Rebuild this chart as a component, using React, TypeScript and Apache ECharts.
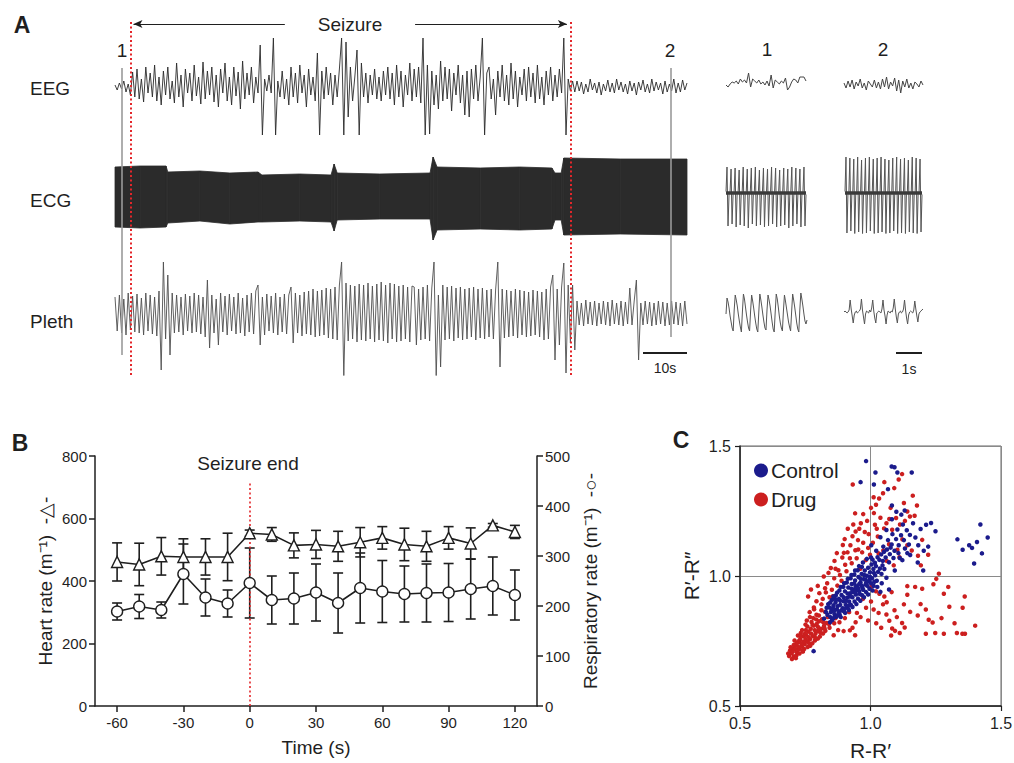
import React, { useEffect, useRef } from 'react';
import * as echarts from 'echarts';

const FONT = 'Arial, "Liberation Sans", Helvetica, sans-serif';
const INK = '#1f1f1f';
const RED_LINE = '#e3262a';

// ---- Panel A: raw traces (offset from baseline, + is up) ----
const eegTrace = [
  2, -3, 4, -2, 6, -5, 3, -8, 15, -10,
  18, -12, 8, -15, 20, -6, 14, -10, 22, -14,
  10, -18, 16, -8, 20, -12, 6, -16, 24, -10,
  12, -20, 18, -6, 14, -14, 22, -9, 10, -17,
  25, -12, 16, -8, 20, -15, 12, -20, 18, -6,
  24, -14, 10, -18, 20, -9, 15, -22, 26, -12,
  14, -8, 20, -16, 10, -6, 42, -48, 8, -4,
  12, -6, 49, -48, 6, -10, 16, -12, 8, -18,
  20, -10, 14, -16, 22, -6, 12, -20, 18, -8,
  10, -14, 34, -48, 16, -12, 20, -8, 14, -18,
  12, -10, 18, 49, -48, 45, -30, 20, -14, 10,
  37, -48, 24, -10, 14, -16, 12, -8, 18, -12,
  10, -14, 16, -8, 20, -12, 14, -18, 22, -10,
  16, -20, 12, -8, 24, -14, 18, -10, 20, -16,
  49, -48, 22, -47, 16, -18, 12, -22, 26, -14,
  20, -12, 18, -24, 14, -8, 22, -16, 12, -28,
  16, -30, 18, -12, 22, -14, 10, 49, -48, 14,
  20, -12, 8, -28, 16, -10, 22, -14, 12, -18,
  24, -12, 16, -20, 10, -8, 18, -14, 20, -10,
  14, -16, 22, -12, 10, -18, 16, -8, 20, -14,
  12, -10, 18, -6, 49, -48, 8, -4, 6, -5,
  6, -4, 5, -7, 3, -5, 8, -3, 4, -6,
  5, -8, 3, -4, 7, -5, 4, -6, 8, -3,
  5, -5, 3, -7, 6, -4, 4, -8, 5, -3,
  7, -5, 3, -6, 8, -4, 5, -3, 4, -7,
  6, -5, 3, -4, 8, -6, 4, -5, 7, -3,
  4,
];

const plethTrace = [
  18, -16, 20, -18, 16, -20, 22, -15, 19, -17,
  21, -18, 17, -20, 22, -16, 20, -19, 18, -21,
  24, -55, 53, -24, 40, -40, 22, -18, 20, -17,
  18, -20, 21, -16, 19, -18, 22, -17, 20, -19,
  18, -22, 35, -33, 20, -18, 16, -30, 22, -17,
  19, -20, 21, -16, 18, -19, 22, -18, 17, -21,
  20, -17, 22, -19, 24, 30, -30, 18, -20, 21,
  -16, 19, -18, 22, -20, 18, -17, 21, -19, 20,
  28, -28, 22, -18, 20, -21, 23, -19, 24, -20,
  26, -22, 24, -21, 25, -20, 27, -23, 26, -24,
  28, -25, 30, 53, -62, 32, -26, 30, -24, 29,
  -27, 31, -25, 30, -26, 32, -24, 29, -27, 31,
  -25, 33, -26, 30, -28, 32, -24, 31, -27, 29,
  -26, 30, -24, 28, -27, 29, 28, -30, 26, -25,
  28, -24, 30, -26, 27, 53, -62, 20, -52, 30,
  -25, 28, -24, 29, -26, 27, -23, 28, -25, 26,
  -24, 27, -22, 28, -25, 26, -23, 27, -24, 25,
  -22, 26, -24, 25, 53, -52, 26, -23, 25, -22,
  24, -21, 26, -23, 25, -20, 24, -22, 23, -21,
  25, -20, 24, -22, 23, -25, 26, -24, 28, 40,
  -45, 26, -30, 28, 52, -58, 30, -28, 30, -35,
  14, -10, 12, -11, 15, -9, 13, -10, 14, -11,
  12, -9, 14, -10, 13, -11, 15, -9, 12, -10,
  14, -11, 13, -9, 27, -10, 14, 35, -45, 12,
  -10, 14, -9, 13, -11, 12, -10, 14, -9, 13,
  -11, 12, -10, 14, -9, 13, -10, 12, -11, 14, -9,
];

// ECG drawn as its envelope (time in s, top / bottom excursion)
const ecgTime = [0, 5.7, 11.6, 12.0, 19.3, 26.1, 32.5, 33.4, 42.0, 49.1, 49.8, 50.5, 60.2, 71.6, 72.3, 73.2, 83.0, 92.0, 99.3, 100.0, 101.4, 102.0, 114.8, 130];
const ecgTop = [30, 31, 31, 25, 26, 24, 25, 22, 23, 22, 33, 24, 23, 24, 40, 30, 29, 30, 29, 24, 24, 39, 38, 38];
const ecgBottom = [-30, -31, -30, -26, -24, -27, -25, -25, -24, -25, -34, -23, -22, -22, -43, -33, -32, -33, -32, -23, -23, -38, -37, -38];

// expanded windows 1 and 2
const eegInset1 = [0, -2, 1, 3, 2, 4, 1, 6, 3, 5, 2, 12, -2, 6, 4, 2, 5, 1, 3, 0, 4, -1, 10, -3, 5, 3, 1, 4, 2, 7, -5, -2, 3, 6, 5, 2, 8, 8, 8, 4];
const eegInset2 = [2, -3, 4, -2, 5, -4, 3, -1, 6, -3, 2, -5, 4, 1, -2, 5, -3, 3, -4, 6, -2, 8, -4, 3, -1, 7, -6, 5, -8, 4, -2, 6, -3, 2, -4, 3, 1, -2, 4, 0];
const ecgInset1Top = [26, 24, 25, 23, 26, 24, 25, 26, 23, 25, 24, 26, 25, 23, 25, 24, 26, 25, 24, 26];
const ecgInset1Bottom = [-33, -31, -34, -32, -33, -35, -31, -33, -32, -34, -33, -31, -34, -33, -32, -35, -33, -31, -34, -33];
const ecgInset2Top = [36, 35, 34, 36, 33, 35, 36, 34, 35, 36, 34, 33, 35, 36, 34, 35, 33, 36, 35, 34];
const ecgInset2Bottom = [-40, -38, -42, -39, -41, -40, -38, -42, -40, -39, -41, -40, -38, -41, -40, -42, -39, -40, -41, -39];
const plethInset1 = [
  -2, 14, 10, 4, -4, -10, -16, -19,
  2, 17, 12, 6, -2, -9, -15, -20,
  0, 18, 13, 5, -3, -10, -16, -19,
  1, 17, 11, 4, -4, -11, -17, -20,
  0, 18, 12, 5, -3, -10, -16, -18,
  2, 17, 12, 6, -2, -10, -17, -20,
  0, 18, 13, 5, -4, -11, -16, -19,
  1, 17, 11, 4, -3, -10, -15, -19,
  0, 18, 12, 5, -3, -11, -17, -20,
  2, 19, 13, 6, -2, -9, -12, -8,
];
const plethInset2 = [
  0, 1, 0, -1, 0, 2, 12, 3, -4, -11, -3, 0, 1,
  -1, 0, 1, 3, 13, 2, -5, -12, -2, 1, 0, -1, 2,
  0, 4, 12, 1, -6, -11, -1, 0, 1, 0, -1, 3,
  12, 2, -4, -12, -3, 1, 0, -1, 1, 0, 4, 13,
  3, -5, -11, -2, 0, 1, -1, 0, 3, 12, 2, -6,
  -12, -3, 0, 1, 0, -1, 2, 11, 3, -4, -10, -2, 0, 1, 2, 3,
];

// annotation times on the raw-trace time axis (s)
const seizureBounds = [3.6, 103.6];
const windowMarkers = [1.5, 126.3];
const windowMarkerEnds = [333, 315];
const scaleBarA = [120, 130];

// ---- Panel B ----
const timeB = [-60, -50, -40, -30, -20, -10, 0, 10, 20, 30, 40, 50, 60, 70, 80, 90, 100, 110, 120];
const heartRate = [461, 453, 479, 477, 477, 477, 553, 549, 514, 517, 511, 524, 538, 517, 511, 538, 520, 578, 557];
const heartRateSd = [61, 68, 60, 58, 58, 76, 10, 22, 40, 45, 48, 47, 36, 52, 48, 36, 50, 6, 21];
const respRate = [189, 199, 192, 264, 217, 205, 246, 212, 215, 227, 206, 236, 229, 224, 226, 227, 234, 240, 222];
const respRateSd = [17, 24, 16, 60, 37, 27, 70, 48, 51, 57, 60, 70, 62, 56, 58, 58, 60, 58, 50];
const timeTicksB = [-60, -30, 0, 30, 60, 90, 120];
const seizureEnd = 0;

// ---- Panel C: Poincaré plot (R-R', R'-R'') ----
const drugPoints = [
  [0.688, 0.692], [0.697, 0.703], [0.692, 0.714], [0.706, 0.691], [0.703, 0.721], [0.718, 0.707], [0.712, 0.733], [0.726, 0.718], [0.721, 0.744], [0.737, 0.729],
  [0.731, 0.756], [0.748, 0.738], [0.742, 0.768], [0.757, 0.749], [0.722, 0.771], [0.753, 0.774], [0.768, 0.757], [0.762, 0.786], [0.738, 0.792], [0.779, 0.768],
  [0.771, 0.797], [0.789, 0.778], [0.758, 0.806], [0.783, 0.809], [0.801, 0.788], [0.774, 0.823], [0.794, 0.816], [0.811, 0.797], [0.803, 0.826], [0.781, 0.838],
  [0.822, 0.808], [0.814, 0.834], [0.793, 0.851], [0.832, 0.819], [0.728, 0.702], [0.746, 0.719], [0.769, 0.732], [0.787, 0.752], [0.806, 0.767], [0.827, 0.789],
  [0.709, 0.752], [0.733, 0.781], [0.751, 0.813], [0.768, 0.842], [0.759, 0.727], [0.798, 0.759], [0.818, 0.779], [0.843, 0.801], [0.861, 0.818], [0.777, 0.741],
  [0.741, 0.709], [0.699, 0.681], [0.716, 0.694], [0.694, 0.726], [0.711, 0.719], [0.727, 0.752], [0.744, 0.747], [0.763, 0.765], [0.786, 0.792], [0.799, 0.804],
  [0.819, 0.822], [0.836, 0.842], [0.752, 0.792], [0.735, 0.741], [0.778, 0.812], [0.792, 0.833],
  [0.702, 0.709], [0.714, 0.684], [0.723, 0.728], [0.739, 0.715], [0.751, 0.758], [0.764, 0.742], [0.772, 0.779], [0.789, 0.762], [0.797, 0.788], [0.809, 0.781],
  [0.824, 0.798], [0.841, 0.815], [0.853, 0.829], [0.866, 0.838], [0.756, 0.829], [0.767, 0.861], [0.784, 0.872], [0.802, 0.848], [0.826, 0.862], [0.812, 0.891],
  [0.749, 0.778], [0.731, 0.769], [0.717, 0.741], [0.706, 0.735], [0.685, 0.702],
  [0.772, 0.948], [0.761, 0.921], [0.793, 0.903], [0.804, 0.934], [0.783, 0.879], [0.812, 0.868], [0.798, 0.962], [0.821, 0.998], [0.826, 0.953], [0.843, 0.918],
  [0.834, 0.972], [0.852, 0.947], [0.839, 1.012], [0.861, 0.991], [0.873, 0.963], [0.848, 1.031], [0.877, 1.022], [0.862, 1.058], [0.892, 1.071], [0.883, 1.004],
  [0.903, 1.043], [0.871, 1.088], [0.894, 1.119], [0.912, 1.091], [0.901, 1.142], [0.923, 1.118], [0.931, 1.153], [0.913, 1.182], [0.934, 1.198], [0.943, 1.171],
  [0.952, 1.138], [0.963, 1.203], [0.941, 1.241], [0.972, 1.238], [0.987, 1.212], [0.978, 1.169], [1.002, 1.262], [1.021, 1.274], [1.033, 1.298], [0.932, 1.352],
  [1.012, 1.303], [1.048, 1.318], [1.053, 1.361], [1.108, 1.371], [1.121, 1.392], [1.091, 1.338], [1.162, 1.309], [1.178, 1.271], [1.169, 1.232], [1.141, 1.248],
  [1.098, 1.223], [1.072, 1.219], [1.038, 1.224], [1.017, 1.197], [1.052, 1.183], [1.028, 1.152], [1.009, 1.128], [0.991, 1.108], [0.968, 1.091], [0.947, 1.068],
  [0.928, 1.049], [0.908, 1.018], [0.889, 0.982], [0.972, 1.128], [0.993, 1.161], [1.024, 1.182], [1.061, 1.203], [1.083, 1.178], [1.113, 1.198], [1.132, 1.212],
  [1.122, 1.141], [1.141, 1.118], [1.103, 1.101], [1.071, 1.122], [1.049, 1.098], [1.031, 1.087], [1.062, 1.058], [1.089, 1.041], [1.111, 1.072], [1.158, 1.098],
  [1.182, 1.078], [1.198, 1.139], [1.221, 1.082], [1.193, 1.041], [0.953, 1.102], [0.961, 1.028], [0.982, 1.061], [0.998, 1.082], [0.921, 1.068], [0.942, 1.099],
  [0.817, 0.912], [0.829, 0.937], [0.856, 0.922], [0.866, 1.028], [0.898, 1.089], [0.957, 1.182], [1.013, 1.242], [1.077, 1.262], [1.128, 1.281], [1.151, 1.229],
  [0.881, 0.822], [0.902, 0.838], [0.918, 0.861], [0.931, 0.801], [0.876, 0.792], [0.897, 0.788], [0.859, 0.772], [0.948, 0.858], [0.962, 0.842], [0.983, 0.878],
  [1.002, 0.902], [0.991, 0.829], [1.012, 0.871], [1.031, 0.858], [1.022, 0.818], [1.048, 0.891], [1.061, 0.852], [1.072, 0.828], [1.092, 0.868], [1.083, 0.798],
  [1.101, 0.842], [1.094, 0.789], [1.121, 0.819], [1.112, 0.781], [1.053, 0.921], [1.034, 0.932], [1.081, 0.938], [1.128, 0.891], [1.152, 0.862], [1.141, 0.928],
  [1.171, 0.958], [1.198, 0.951], [1.192, 0.892], [1.212, 0.871], [1.181, 0.848], [1.223, 0.832], [1.212, 0.778], [1.248, 0.781], [1.238, 0.821], [1.272, 0.838],
  [1.281, 0.778], [1.322, 0.818], [1.331, 0.781], [1.352, 0.778], [1.362, 0.778], [1.401, 0.809], [1.353, 0.878], [1.361, 0.921], [1.302, 0.882], [1.281, 0.932],
  [1.252, 0.989], [1.262, 1.009], [1.241, 0.968], [1.298, 0.958], [0.921, 0.791], [0.941, 0.772], [1.079, 0.771], [1.131, 0.802], [1.003, 0.958], [1.021, 0.941],
  [0.971, 0.912], [1.141, 0.961], [1.062, 0.899], [0.943, 0.822], [1.041, 0.801],
];

const controlPoints = [
  [0.822, 0.836], [0.835, 0.851], [0.829, 0.862], [0.846, 0.842], [0.851, 0.868], [0.843, 0.879], [0.862, 0.853], [0.858, 0.887], [0.871, 0.872], [0.866, 0.898],
  [0.878, 0.861], [0.884, 0.889], [0.879, 0.912], [0.893, 0.876], [0.897, 0.903], [0.889, 0.927], [0.905, 0.889], [0.911, 0.917], [0.902, 0.941], [0.918, 0.902],
  [0.923, 0.934], [0.915, 0.956], [0.931, 0.918], [0.936, 0.947], [0.928, 0.969], [0.944, 0.929], [0.949, 0.961], [0.941, 0.983], [0.957, 0.942], [0.962, 0.975],
  [0.954, 0.996], [0.969, 0.955], [0.974, 0.988], [0.966, 1.008], [0.981, 0.967], [0.986, 1.001], [0.978, 1.021], [0.993, 0.979], [0.998, 1.014], [1.006, 0.991],
  [1.011, 1.027], [1.018, 1.003], [1.024, 0.982], [1.029, 1.016], [0.853, 0.831], [0.869, 0.843], [0.882, 0.851], [0.898, 0.864], [0.912, 0.878], [0.925, 0.889],
  [0.939, 0.902], [0.952, 0.913], [0.968, 0.926], [0.983, 0.938], [0.996, 0.951], [1.012, 0.962], [0.838, 0.892], [0.852, 0.908], [0.867, 0.925], [0.881, 0.944],
  [0.896, 0.958], [0.909, 0.975], [0.924, 0.991], [0.938, 1.006], [0.951, 1.022], [0.967, 1.035], [0.906, 0.905], [0.921, 0.921], [0.946, 0.944], [0.959, 0.931],
  [0.874, 0.884], [0.887, 0.867], [0.933, 0.938], [0.972, 0.947], [0.988, 0.962], [1.002, 0.972], [0.918, 0.887], [0.901, 0.874], [0.861, 0.866], [0.848, 0.861],
  [0.976, 1.004], [0.991, 1.032], [1.004, 1.044], [1.017, 1.051], [0.862, 0.914], [0.943, 0.958], [0.957, 0.969], [0.981, 0.986], [0.999, 0.996], [1.021, 1.038],
  [0.845, 0.822], [0.858, 0.838], [0.873, 0.848], [0.886, 0.842], [0.903, 0.858], [0.917, 0.869], [0.931, 0.881], [0.946, 0.892], [0.961, 0.905], [0.975, 0.918],
  [0.991, 0.929], [1.008, 0.944], [1.026, 0.958], [0.832, 0.878], [0.846, 0.898], [0.858, 0.921], [0.872, 0.936], [0.886, 0.958], [0.899, 0.972], [0.913, 0.989],
  [0.927, 1.004], [0.941, 1.021], [0.956, 1.038], [0.971, 1.052], [0.986, 1.066], [1.002, 1.071], [0.912, 0.933], [0.927, 0.951], [0.941, 0.937], [0.953, 0.952],
  [0.967, 0.962], [0.983, 0.973], [0.997, 0.987], [1.013, 1.012], [0.884, 0.905], [0.897, 0.918], [0.869, 0.908], [0.856, 0.876], [0.938, 0.971], [0.962, 0.989],
  [1.036, 1.029], [1.042, 1.008], [1.008, 1.063], [1.047, 1.058], [1.015, 0.978],
  [1.034, 1.062], [1.046, 1.041], [1.041, 1.083], [1.058, 1.071], [1.063, 1.102], [1.049, 1.113], [1.074, 1.084], [1.081, 1.121], [1.067, 1.138], [1.092, 1.097],
  [1.098, 1.142], [1.084, 1.161], [1.108, 1.118], [1.117, 1.157], [1.103, 1.179], [1.128, 1.138], [1.139, 1.176], [1.124, 1.198], [1.151, 1.158], [1.163, 1.203],
  [1.053, 1.027], [1.071, 1.053], [1.088, 1.069], [1.107, 1.088], [1.132, 1.106], [1.147, 1.121], [1.172, 1.148], [1.022, 1.097], [1.003, 1.118], [1.038, 1.149],
  [1.061, 1.177], [1.082, 1.218], [1.099, 1.247], [1.118, 1.236], [1.093, 1.021], [1.122, 1.061], [1.061, 0.993], [1.043, 0.972], [1.183, 1.118], [1.204, 1.097],
  [1.221, 1.113], [1.192, 1.181], [1.213, 1.197], [1.232, 1.204], [1.249, 1.172], [1.027, 1.072], [1.052, 1.093], [1.077, 1.109], [1.112, 1.069], [1.141, 1.088],
  [0.983, 1.442], [0.962, 1.361], [1.081, 1.421], [1.092, 1.418], [1.103, 1.398], [1.158, 1.398], [1.019, 1.398], [1.013, 1.352], [1.067, 1.334], [1.082, 1.271],
  [1.131, 1.252], [1.421, 1.198], [1.449, 1.148], [1.333, 1.141], [1.408, 1.131], [1.353, 1.101], [1.378, 1.118], [1.427, 1.087], [1.397, 1.048], [1.389, 1.108],
  [1.071, 0.948], [1.038, 0.939], [0.782, 0.711], [1.181, 1.052], [1.152, 1.081], [1.202, 1.021],
];

const indexAxis = (n: number) => Array.from({ length: n }, (_, i) => i);

const ecgBeats = (tops: number[], bottoms: number[]) =>
  tops.flatMap((t, i) => [1.5, t, bottoms[i], -1.5]);

const label = (text: string, x: number, y: number, size: number, opts: { bold?: boolean; align?: string } = {}) => ({
  type: 'text',
  x,
  y,
  silent: true,
  z: 30,
  style: {
    text,
    font: `${opts.bold ? 'bold ' : ''}${size}px ${FONT}`,
    fill: INK,
    align: opts.align ?? 'center',
    verticalAlign: 'middle',
    textAlign: opts.align ?? 'center',
    textVerticalAlign: 'middle',
  },
});

const errorBars = (values: number[], sds: number[], yAxisIndex: number) => ({
  type: 'custom',
  xAxisIndex: 10,
  yAxisIndex,
  z: 3,
  silent: true,
  data: timeB.map((t, i) => [t, values[i], sds[i]]),
  renderItem: (_params: any, api: any) => {
    const x = api.value(0);
    const y = api.value(1);
    const e = api.value(2);
    const hi = api.coord([x, y + e]);
    const lo = api.coord([x, y - e]);
    const w = 5;
    const style = { stroke: INK, lineWidth: 1.6 };
    return {
      type: 'group',
      children: [
        { type: 'line', shape: { x1: hi[0], y1: hi[1], x2: lo[0], y2: lo[1] }, style },
        { type: 'line', shape: { x1: hi[0] - w, y1: hi[1], x2: hi[0] + w, y2: hi[1] }, style },
        { type: 'line', shape: { x1: lo[0] - w, y1: lo[1], x2: lo[0] + w, y2: lo[1] }, style },
      ],
    };
  },
});

const traceSeries = (k: number, data: number[], color: string, width = 0.9) => ({
  type: 'line',
  xAxisIndex: k,
  yAxisIndex: k,
  data,
  symbol: 'none',
  silent: true,
  lineStyle: { color, width },
});

const baselineMark = {
  silent: true,
  symbol: 'none',
  animation: false,
  label: { show: false },
  lineStyle: { color: '#3a3a3a', type: 'solid', width: 3.5 },
  data: [{ yAxis: 0 }],
};

const App: React.FC = () => {
  const chartRef = useRef<HTMLDivElement>(null);

  useEffect(() => {
    if (!chartRef.current) return;
    const chart = echarts.init(chartRef.current, undefined, { renderer: 'svg' });

    const hiddenGrids = [
      { left: 115, top: 37, width: 572, height: 100 },
      { left: 115, top: 147, width: 572, height: 100 },
      { left: 115, top: 255, width: 572, height: 120 },
      { left: 726, top: 65, width: 80, height: 40 },
      { left: 844, top: 65, width: 79, height: 40 },
      { left: 726, top: 153, width: 80, height: 80 },
      { left: 845, top: 153, width: 77, height: 80 },
      { left: 726, top: 282, width: 81, height: 60 },
      { left: 844, top: 282, width: 79, height: 60 },
      { left: 115, top: 22, width: 572, height: 353 },
    ];
    const hiddenRanges = [50, 50, 60, 20, 20, 40, 40, 30, 30];
    const ecgInset1 = ecgBeats(ecgInset1Top, ecgInset1Bottom);
    const ecgInset2 = ecgBeats(ecgInset2Top, ecgInset2Bottom);
    const hiddenData = [eegTrace, null, plethTrace, eegInset1, eegInset2, ecgInset1, ecgInset2, plethInset1, plethInset2];

    const xAxes: any[] = hiddenGrids.map((_, k) => {
      if (k === 1 || k === 9) return { gridIndex: k, type: 'value', min: 0, max: 130, show: false };
      return { gridIndex: k, type: 'category', boundaryGap: false, show: false, data: indexAxis((hiddenData[k] as number[]).length) };
    });
    const yAxes: any[] = hiddenGrids.map((_, k) => {
      if (k === 9) return { gridIndex: k, type: 'value', min: 0, max: 353, inverse: true, show: false };
      return { gridIndex: k, type: 'value', min: -hiddenRanges[k], max: hiddenRanges[k], show: false };
    });

    const axisLineB = { show: true, onZero: false, lineStyle: { color: INK, width: 1.5 } };
    const tickB = { show: true, length: 6, lineStyle: { color: INK, width: 1.5 } };
    const labelB = { color: INK, fontSize: 15, fontFamily: FONT };
    const nameB = { color: INK, fontSize: 19, fontFamily: FONT };
    const axisLineC = { show: true, onZero: false, lineStyle: { color: INK, width: 1.5 } };

    xAxes.push(
      {
        gridIndex: 10, type: 'value', min: -70, max: 130,
        axisLine: axisLineB,
        axisTick: { ...tickB, customValues: timeTicksB },
        axisLabel: { ...labelB, margin: 9, customValues: timeTicksB },
        splitLine: { show: false },
        name: 'Time (s)', nameLocation: 'middle', nameGap: 32, nameTextStyle: nameB,
      },
      {
        gridIndex: 11, type: 'value', min: 0.5, max: 1.5, interval: 0.5,
        axisLine: axisLineC,
        axisTick: { show: true, length: 5, lineStyle: { color: INK, width: 1.2 } },
        axisLabel: { ...labelB, fontSize: 16, margin: 9, formatter: (v: number) => v.toFixed(1) },
        splitLine: { show: true, lineStyle: { color: '#8a8a8a', width: 1 } },
        name: 'R-R\u2032', nameLocation: 'middle', nameGap: 34, nameTextStyle: { ...nameB, fontSize: 21 },
      },
    );
    yAxes.push(
      {
        gridIndex: 10, type: 'value', min: 0, max: 800, interval: 200,
        axisLine: axisLineB, axisTick: tickB,
        axisLabel: { ...labelB, margin: 8 },
        splitLine: { show: false },
        name: 'Heart rate (m\u207B\u00B9)  -\u25B3-', nameLocation: 'middle', nameRotate: 90, nameGap: 40, nameTextStyle: nameB,
      },
      {
        gridIndex: 10, type: 'value', position: 'right', min: 0, max: 500, interval: 100,
        axisLine: axisLineB, axisTick: tickB,
        axisLabel: { ...labelB, margin: 8 },
        splitLine: { show: false },
        name: 'Respiratory rate (m\u207B\u00B9)  -\u25CB-', nameLocation: 'middle', nameRotate: 90, nameGap: 44, nameTextStyle: nameB,
      },
      {
        gridIndex: 11, type: 'value', min: 0.5, max: 1.5, interval: 0.5,
        axisLine: axisLineC,
        axisTick: { show: true, length: 5, lineStyle: { color: INK, width: 1.2 } },
        axisLabel: { ...labelB, fontSize: 16, margin: 9, formatter: (v: number) => v.toFixed(1) },
        splitLine: { show: true, lineStyle: { color: '#8a8a8a', width: 1 } },
        name: 'R\u2032-R\u2033', nameLocation: 'middle', nameRotate: 90, nameGap: 38, nameTextStyle: { ...nameB, fontSize: 21 },
      },
    );

    const redDots = { color: RED_LINE, type: [2, 2.5], width: 2 };
    const grayMarker = { color: '#9a9a9a', type: 'solid', width: 1.6 };
    const blackThin = { color: INK, type: 'solid', width: 1 };

    const option: any = {
      animation: false,
      backgroundColor: '#ffffff',
      textStyle: { fontFamily: FONT },
      grid: [
        ...hiddenGrids.map((g) => ({ ...g, outerBoundsMode: 'none' })),
        { left: 95, top: 456, width: 442, height: 250, outerBoundsMode: 'none' },
        { left: 740, top: 446, width: 261, height: 260, show: true, borderColor: '#666', borderWidth: 1, backgroundColor: 'transparent', outerBoundsMode: 'none' },
      ],
      xAxis: xAxes,
      yAxis: yAxes,
      legend: {
        data: ['Control', 'Drug'],
        orient: 'vertical',
        left: 749,
        top: 455,
        icon: 'circle',
        itemWidth: 14,
        itemHeight: 14,
        itemGap: 8,
        selectedMode: false,
        textStyle: { fontSize: 21, color: INK, fontFamily: FONT, padding: [0, 0, 0, -2] },
      },
      graphic: [
        label('A', 22, 25, 23, { bold: true }),
        label('B', 20, 443, 23, { bold: true }),
        label('C', 681, 440, 23, { bold: true }),
        label('EEG', 30, 88, 19, { align: 'left' }),
        label('ECG', 30, 200, 19, { align: 'left' }),
        label('Pleth', 30, 321, 19, { align: 'left' }),
        label('Seizure', 350, 24, 19),
        label('1', 122, 50, 19),
        label('2', 670, 50, 19),
        label('1', 767, 49, 19),
        label('2', 883, 49, 19),
        label('10s', 665, 368, 14),
        label('1s', 909, 369, 14),
        label('Seizure end', 248, 463, 19),
        { type: 'line', silent: true, z: 30, shape: { x1: 896, y1: 353, x2: 922, y2: 353 }, style: { stroke: INK, lineWidth: 2 } },
      ],
      series: [
        traceSeries(0, eegTrace, '#2a2a2a', 0.9),
        {
          type: 'custom', xAxisIndex: 1, yAxisIndex: 1, silent: true,
          data: ecgTime.map((t, i) => [t, ecgTop[i], ecgBottom[i]]),
          encode: { x: 0, y: [1, 2] },
          renderItem: (params: any, api: any) => {
            const i = params.dataIndex;
            if (i >= ecgTime.length - 1) return null;
            const a = api.coord([ecgTime[i], ecgTop[i]]);
            const b = api.coord([ecgTime[i + 1], ecgTop[i + 1]]);
            const c = api.coord([ecgTime[i + 1], ecgBottom[i + 1]]);
            const d = api.coord([ecgTime[i], ecgBottom[i]]);
            return {
              type: 'polygon',
              shape: { points: [a, b, c, d] },
              style: { fill: '#2b2b2b', stroke: '#2b2b2b', lineWidth: 0.8 },
            };
          },
        },
        traceSeries(2, plethTrace, '#4f4f4f', 0.9),
        traceSeries(3, eegInset1, '#444', 1),
        traceSeries(4, eegInset2, '#444', 1),
        { ...traceSeries(5, ecgInset1, '#555', 1), markLine: baselineMark },
        { ...traceSeries(6, ecgInset2, '#555', 1), markLine: baselineMark },
        traceSeries(7, plethInset1, '#555', 1),
        traceSeries(8, plethInset2, '#555', 1),
        {
          type: 'scatter', xAxisIndex: 9, yAxisIndex: 9, data: [[0, -100]], symbolSize: 0, silent: true, z: 10,
          markLine: {
            silent: true,
            symbol: 'none',
            animation: false,
            label: { show: false },
            data: [
              ...seizureBounds.map((t) => [{ coord: [t, 0], lineStyle: redDots }, { coord: [t, 353] }]),
              ...windowMarkers.map((t, i) => [{ coord: [t, 46], lineStyle: grayMarker }, { coord: [t, windowMarkerEnds[i]] }]),
              [{ coord: [seizureBounds[0] + 0.6, 2], symbol: 'arrow', symbolSize: [6, 9], lineStyle: blackThin }, { coord: [38.6, 2] }],
              [{ coord: [68.2, 2], lineStyle: blackThin }, { coord: [seizureBounds[1] - 0.9, 2], symbol: 'arrow', symbolSize: [6, 9] }],
              [{ coord: [scaleBarA[0], 331], lineStyle: { color: INK, type: 'solid', width: 2 } }, { coord: [scaleBarA[1], 331] }],
            ],
          },
        },
        errorBars(heartRate, heartRateSd, 10),
        errorBars(respRate, respRateSd, 11),
        {
          type: 'line', xAxisIndex: 10, yAxisIndex: 10, z: 5, silent: true,
          data: timeB.map((t, i) => [t, heartRate[i]]),
          symbol: 'triangle', symbolSize: 11, showSymbol: true,
          itemStyle: { color: '#ffffff', borderColor: INK, borderWidth: 1.4 },
          lineStyle: { color: INK, width: 1.6 },
          markLine: {
            silent: true, symbol: 'none', animation: false, label: { show: false },
            lineStyle: { color: RED_LINE, type: [2, 2.5], width: 1.6 },
            data: [[{ coord: [seizureEnd, 0] }, { coord: [seizureEnd, 715] }]],
          },
        },
        {
          type: 'line', xAxisIndex: 10, yAxisIndex: 11, z: 5, silent: true,
          data: timeB.map((t, i) => [t, respRate[i]]),
          symbol: 'circle', symbolSize: 11, showSymbol: true,
          itemStyle: { color: '#ffffff', borderColor: INK, borderWidth: 1.4 },
          lineStyle: { color: INK, width: 1.6 },
        },
        {
          name: 'Drug', type: 'scatter', xAxisIndex: 11, yAxisIndex: 12, silent: true,
          data: drugPoints, symbolSize: 4.5, itemStyle: { color: '#cc1f1f', opacity: 1 },
        },
        {
          name: 'Control', type: 'scatter', xAxisIndex: 11, yAxisIndex: 12, silent: true,
          data: controlPoints, symbolSize: 4.5, itemStyle: { color: '#1b1b8c', opacity: 1 },
        },
      ],
    };

    chart.setOption(option);

    return () => {
      chart.dispose();
    };
  }, []);

  return (
    <div
      ref={chartRef}
      style={{ position: 'absolute', left: 0, top: 0, width: '1014px', height: '763px', background: '#fff' }}
    />
  );
};

export default App;
